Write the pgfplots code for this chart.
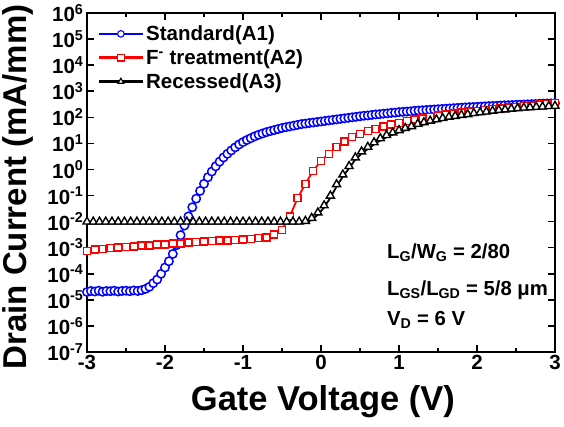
\documentclass[border=0pt]{standalone}
\usepackage{fontspec}
\setmainfont{Liberation Sans}
\usepackage{pgfplots}
\pgfplotsset{compat=1.18}
\definecolor{myblue}{RGB}{0,0,255}
\definecolor{myred}{RGB}{255,0,0}
\begin{document}
\begin{tikzpicture}
\begin{axis}[
  scale only axis, width=468pt, height=339pt,
  xmin=-3, xmax=3, ymin=1e-7, ymax=1e6,
  ymode=log, log basis y=10,
  xtick={-3,-2,-1,0,1,2,3},
  xticklabels={-3,-2,-1,0,1,2,3},
  minor xtick={-2.5,-1.5,-0.5,0.5,1.5,2.5},
  ytick={1e-7,1e-6,1e-5,1e-4,1e-3,1e-2,1e-1,1,1e1,1e2,1e3,1e4,1e5,1e6},
  yticklabels={10\textsuperscript{-7},10\textsuperscript{-6},10\textsuperscript{-5},10\textsuperscript{-4},10\textsuperscript{-3},10\textsuperscript{-2},10\textsuperscript{-1},10\textsuperscript{0},10\textsuperscript{1},10\textsuperscript{2},10\textsuperscript{3},10\textsuperscript{4},10\textsuperscript{5},10\textsuperscript{6}},
  tick align=inside,
  major tick length=7pt, minor tick length=4pt,
  every tick/.style={line width=1.5pt, black},
  axis line style={line width=2.2pt},
  tick label style={font=\fontsize{20.5}{24}\selectfont\bfseries},
  xlabel={Gate Voltage (V)},
  ylabel={Drain Current (mA/mm)},
  every axis x label/.style={at={(axis description cs:0.504,-0.1475)}, anchor=center, font=\fontsize{34.5}{40}\selectfont\bfseries},
  every axis y label/.style={at={(axis description cs:-0.147,0.487)}, anchor=center, rotate=90, font=\fontsize{33}{38}\selectfont\bfseries},
  legend style={at={(axis description cs:0.02,0.972)}, anchor=north west, draw=none, fill=none,
    font=\fontsize{20.5}{23}\selectfont\bfseries, row sep=3.5pt, inner sep=1pt},
  legend cell align=left,
  legend image code/.code={\draw[line width=2.6pt, mark=none] (0pt,0pt) -- (44pt,0pt);
     \draw[mark size=3.3pt, mark options={solid, line width=1.1pt, fill=white, yshift=0pt}] plot coordinates {(22pt,0pt)};},
]
\addplot[myblue, line width=1.8pt, mark=*, mark size=4.2pt, mark options={solid, line width=1.5pt, fill=white}] coordinates {
(-3.00,2.0e-5) (-2.95,2.19e-5) (-2.90,2.09e-5) (-2.85,2.24e-5) (-2.80,2.04e-5) (-2.75,2.19e-5)
(-2.70,2.14e-5) (-2.65,2.24e-5) (-2.60,2.09e-5) (-2.55,2.19e-5) (-2.50,2.24e-5) (-2.45,2.14e-5)
(-2.40,2.29e-5) (-2.35,2.19e-5) (-2.30,2.34e-5) (-2.25,2.63e-5) (-2.20,3.16e-5) (-2.15,4.37e-5)
(-2.10,6.03e-5) (-2.05,1.0e-4) (-2.00,1.74e-4) (-1.95,3.02e-4) (-1.90,5.75e-4) (-1.85,1.26e-3)
(-1.80,3.02e-3) (-1.75,7.08e-3) (-1.70,1.58e-2) (-1.65,3.55e-2) (-1.60,7.59e-2) (-1.55,0.151)
(-1.50,0.282) (-1.45,0.501) (-1.40,0.832) (-1.35,1.318) (-1.30,1.995) (-1.25,2.884)
(-1.20,3.981) (-1.15,5.370) (-1.10,7.079) (-1.05,9.120) (-1.00,11.22) (-0.95,13.49)
(-0.90,15.85) (-0.85,18.62) (-0.80,21.38) (-0.75,23.99) (-0.70,26.92) (-0.65,29.51)
(-0.60,32.36) (-0.55,35.48) (-0.50,38.90) (-0.45,41.69) (-0.40,44.67) (-0.35,47.86)
(-0.30,51.29) (-0.25,54.95) (-0.20,57.54) (-0.15,60.26) (-0.10,63.10) (-0.05,66.07)
(0.00,69.18) (0.05,72.44) (0.10,75.86) (0.15,79.43) (0.20,83.18) (0.25,87.10)
(0.30,91.20) (0.35,95.50) (0.40,100.0) (0.45,104.7) (0.50,109.6) (0.55,114.8)
(0.60,117.5) (0.65,123.0) (0.70,128.8) (0.75,131.8) (0.80,138.0) (0.85,141.3)
(0.90,147.9) (0.95,151.4) (1.00,158.5) (1.05,162.2) (1.10,166.0) (1.15,169.8)
(1.20,177.8) (1.25,182.0) (1.30,186.2) (1.35,190.5) (1.40,195.0) (1.45,199.5)
(1.50,204.2) (1.55,208.9) (1.60,213.8) (1.65,218.8) (1.70,223.9) (1.75,229.1)
(1.80,234.4) (1.85,239.9) (1.90,245.5) (1.95,248.0) (2.00,251.2) (2.05,257.0)
(2.10,263.0) (2.15,269.2) (2.20,272.0) (2.25,275.4) (2.30,281.8) (2.35,288.4)
(2.40,291.0) (2.45,295.1) (2.50,302.0) (2.55,305.0) (2.60,309.0) (2.65,316.2)
(2.70,319.0) (2.75,323.6) (2.80,331.1) (2.85,334.0) (2.90,338.8) (2.95,342.0)
(3.00,346.7)
};
\addlegendentry{Standard(A1)}
\addplot[myred, line width=1.8pt, mark=square*, mark size=3.5pt, mark options={solid, line width=1.5pt, fill=white}] coordinates {
(-3.0,7.59e-4) (-2.9,8.71e-4) (-2.8,8.91e-4) (-2.7,9.55e-4) (-2.6,1.02e-3) (-2.5,1.07e-3)
(-2.4,1.12e-3) (-2.3,1.20e-3) (-2.2,1.23e-3) (-2.1,1.32e-3) (-2.0,1.35e-3) (-1.9,1.45e-3)
(-1.8,1.48e-3) (-1.7,1.58e-3) (-1.6,1.62e-3) (-1.5,1.70e-3) (-1.4,1.78e-3) (-1.3,1.86e-3)
(-1.2,1.91e-3) (-1.1,2.00e-3) (-1.0,2.09e-3) (-0.9,2.19e-3) (-0.8,2.34e-3) (-0.7,2.51e-3)
(-0.6,3.16e-3) (-0.5,4.79e-3) (-0.4,1.58e-2) (-0.3,7.94e-2) (-0.2,0.282) (-0.1,0.891)
(0.0,2.14) (0.1,3.98) (0.2,7.24) (0.3,12.0) (0.4,17.8) (0.5,23.4)
(0.6,29.5) (0.7,36.3) (0.8,43.7) (0.9,52.5) (1.0,61.7) (1.1,70.8)
(1.2,81.3) (1.3,91.2) (1.4,102.3) (1.5,114.8) (1.6,125.9) (1.7,138.0)
(1.8,151.4) (1.9,166.0) (2.0,177.8) (2.1,190.5) (2.2,204.2) (2.3,218.8)
(2.4,234.4) (2.5,251.2) (2.6,269.2) (2.7,288.4) (2.8,309.0) (2.9,323.6)
(3.0,346.7)
};
\addlegendentry{F\textsuperscript{-} treatment(A2)}
\addplot[black, line width=1.8pt, mark=triangle*, mark size=4.6pt, mark options={solid, line width=1.4pt, fill=white, yshift=2pt}] coordinates {
(-3.00,8.3e-3) (-2.92,8.3e-3) (-2.84,8.3e-3) (-2.76,8.3e-3) (-2.68,8.3e-3) (-2.60,8.3e-3)
(-2.52,8.3e-3) (-2.44,8.3e-3) (-2.36,8.3e-3) (-2.28,8.3e-3) (-2.20,8.3e-3) (-2.12,8.3e-3)
(-2.04,8.3e-3) (-1.96,8.3e-3) (-1.88,8.3e-3) (-1.80,8.3e-3) (-1.72,8.3e-3) (-1.64,8.3e-3)
(-1.56,8.3e-3) (-1.48,8.3e-3) (-1.40,8.3e-3) (-1.32,8.3e-3) (-1.24,8.3e-3) (-1.16,8.3e-3)
(-1.08,8.3e-3) (-1.00,8.3e-3) (-0.92,8.3e-3) (-0.84,8.3e-3) (-0.76,8.3e-3) (-0.68,8.3e-3)
(-0.60,8.3e-3) (-0.52,8.3e-3) (-0.44,8.3e-3) (-0.36,8.3e-3) (-0.28,8.3e-3) (-0.20,8.8e-3)
(-0.12,1.15e-2) (-0.04,1.85e-2) (0.04,3.50e-2) (0.12,8.2e-2) (0.20,0.225) (0.28,0.53)
(0.36,1.12) (0.44,2.40) (0.52,4.05) (0.60,6.1) (0.68,9.1) (0.76,13.0)
(0.84,17.2) (0.92,21.7) (1.00,26.7) (1.08,32.2) (1.16,38.0) (1.24,46.8)
(1.32,53.7) (1.40,61.7) (1.48,69.2) (1.56,77.6) (1.64,87.1) (1.72,93.3)
(1.80,102.3) (1.88,109.6) (1.96,120.2) (2.04,128.8) (2.12,138.0) (2.20,147.9)
(2.28,158.5) (2.36,166.0) (2.44,177.8) (2.52,186.2) (2.60,195.0) (2.68,199.5)
(2.76,208.9) (2.84,213.8) (2.92,223.9) (3.00,229.1)
};
\addlegendentry{Recessed(A3)}
\node[anchor=west, font=\fontsize{20.3}{24}\selectfont\bfseries, inner sep=0pt] at (rel axis cs:0.641,0.292) {L\textsubscript{G}/W\textsubscript{G} = 2/80};
\node[anchor=west, font=\fontsize{20.3}{24}\selectfont\bfseries, inner sep=0pt] at (rel axis cs:0.641,0.183) {L\textsubscript{GS}/L\textsubscript{GD} = 5/8 μm};
\node[anchor=west, font=\fontsize{20.3}{24}\selectfont\bfseries, inner sep=0pt] at (rel axis cs:0.641,0.094) {V\textsubscript{D} = 6 V};
\end{axis}
\pgfresetboundingbox
\useasboundingbox (-87pt,-75pt) rectangle (477pt,352pt);
\end{tikzpicture}
\end{document}
